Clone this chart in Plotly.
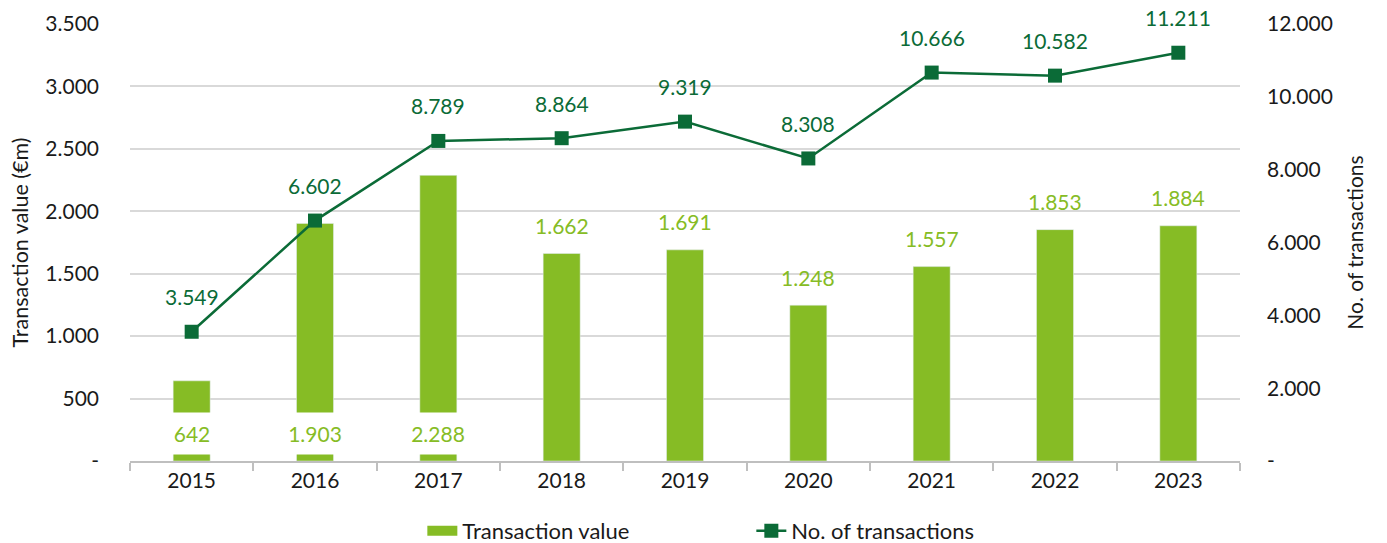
import plotly.graph_objects as go

years = ["2015", "2016", "2017", "2018", "2019", "2020", "2021", "2022", "2023"]
value_m = [642, 1903, 2288, 1662, 1691, 1248, 1557, 1853, 1884]
n_trans = [3549, 6602, 8789, 8864, 9319, 8308, 10666, 10582, 11211]
value_labels = ["642", "1.903", "2.288", "1.662", "1.691", "1.248", "1.557", "1.853", "1.884"]
trans_labels = ["3.549", "6.602", "8.789", "8.864", "9.319", "8.308", "10.666", "10.582", "11.211"]
inside_label_years = ["2015", "2016", "2017"]

left_ticks = [0, 500, 1000, 1500, 2000, 2500, 3000, 3500]
left_ticktext = ["-", "500", "1.000", "1.500", "2.000", "2.500", "3.000", "3.500"]
right_ticks = [0, 2000, 4000, 6000, 8000, 10000, 12000]
right_ticktext = ["-", "2.000", "4.000", "6.000", "8.000", "10.000", "12.000"]

BAR = "#86BC25"
LINE = "#0B6B37"
FONT = "Lato"
TXT = "#1a1a1a"
FS = 21

fig = go.Figure()
fig.add_trace(go.Bar(x=years, y=value_m, name="Transaction value", marker_color=BAR,
                     width=0.3, yaxis="y", showlegend=False))
# legend proxy for the bar series (wide rectangular swatch)
fig.add_trace(go.Scatter(x=[None], y=[None], name="Transaction value", mode="lines",
                         line=dict(color=BAR, width=10), yaxis="y", showlegend=True))
fig.add_trace(go.Scatter(x=years, y=n_trans, name="No. of transactions", mode="lines+markers",
                         line=dict(color=LINE, width=2.5),
                         marker=dict(symbol="square", size=14, color=LINE), yaxis="y2"))

annotations = []
for i, (yr, v, lab) in enumerate(zip(years, value_m, value_labels)):
    if yr in inside_label_years:
        annotations.append(dict(x=i, y=0, xref="x", yref="y", text=lab, showarrow=False,
                                yanchor="middle", yshift=28, bgcolor="white",
                                width=58, height=39, font=dict(color=BAR, size=FS, family=FONT)))
    else:
        annotations.append(dict(x=i, y=v, xref="x", yref="y", text=lab, showarrow=False,
                                yanchor="middle", yshift=28,
                                font=dict(color=BAR, size=FS, family=FONT)))
for i, (v, lab) in enumerate(zip(n_trans, trans_labels)):
    annotations.append(dict(x=i, y=v, xref="x", yref="y2", text=lab, showarrow=False,
                            yanchor="middle", yshift=35,
                            font=dict(color=LINE, size=FS, family=FONT)))

fig.update_layout(
    width=1387, height=543,
    margin=dict(l=130, r=147, t=24, b=82),
    paper_bgcolor="white", plot_bgcolor="white",
    font=dict(family=FONT, size=FS, color=TXT),
    hovermode=False,
    showlegend=True,
    legend=dict(orientation="h", xref="container", yref="container", x=0.3045, xanchor="left",
                y=0.022, yanchor="middle",
                font=dict(size=22, family=FONT, color=TXT), entrywidth=284, entrywidthmode="pixels",
                traceorder="normal"),
    xaxis=dict(type="category", range=[-0.5, len(years) - 0.5], autorange=False, automargin=False,
               showgrid=False, showline=True, linecolor="#BFBFBF", linewidth=1.5,
               ticks="outside", tickson="boundaries", ticklen=8, tickcolor="#BFBFBF", tickwidth=1.5,
               tickangle=0, tickfont=dict(size=FS, family=FONT, color=TXT)),
    yaxis=dict(range=[0, 3500], autorange=False, automargin=False, tickvals=left_ticks,
               ticktext=left_ticktext, showgrid=True,
               gridcolor="#D9D9D9", gridwidth=1.5, zeroline=False, showline=False, ticks="",
               tickfont=dict(size=FS, family=FONT, color=TXT), ticklabelstandoff=30,
               title=dict(text="Transaction value (€m)", font=dict(size=21.5, family=FONT, color=TXT), standoff=10)),
    yaxis2=dict(range=[0, 12000], autorange=False, automargin=False, tickvals=right_ticks,
                ticktext=right_ticktext, overlaying="y",
                side="right", showgrid=False, zeroline=False, showline=False, ticks="",
                tickfont=dict(size=FS, family=FONT, color=TXT), ticklabelstandoff=26,
                title=dict(text="No. of transactions", font=dict(size=21, family=FONT, color=TXT), standoff=16)),
    annotations=annotations,
)

fig.write_html("out.html", config={"displayModeBar": False},
               post_script="document.body.style.margin='0px';")
